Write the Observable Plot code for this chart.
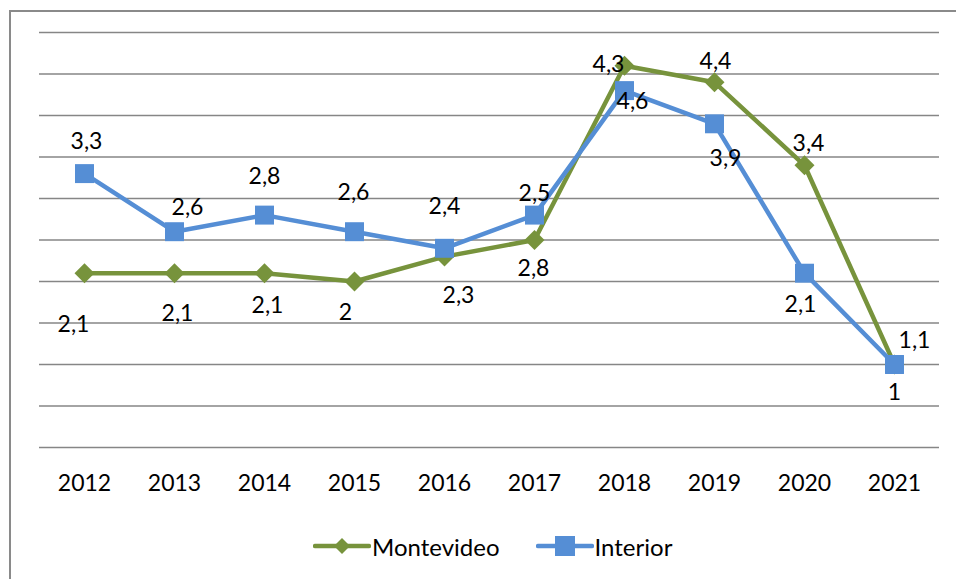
<!DOCTYPE html>
<html>
<head>
<meta charset="utf-8">
<script src="https://cdn.jsdelivr.net/npm/d3@7"></script>
<script src="https://cdn.jsdelivr.net/npm/@observablehq/plot@0.6"></script>
<style>
  html, body { margin: 0; padding: 0; background: #fff; }
  body { width: 956px; height: 579px; position: relative; overflow: hidden; font-family: Lato, "Open Sans", sans-serif; }
  #frame { position: absolute; left: 9px; top: 10px; width: 960px; height: 600px;
           border-left: 2px solid #8a8a8a; border-top: 2px solid #8a8a8a; box-sizing: border-box; }
  #chart { position: absolute; left: 0; top: 0; }
  #legend { position: absolute; left: 313px; top: 530px; height: 32px; display: flex; align-items: center;
            font-family: Lato, sans-serif; font-size: 24px; color: #000; }
  .item { display: flex; align-items: center; margin-right: 36px; }
  .item svg { display: block; margin-right: 1px; }
</style>
</head>
<body>
<div id="frame"></div>
<div id="chart"></div>
<div id="legend"></div>
<script>
const years = [2012, 2013, 2014, 2015, 2016, 2017, 2018, 2019, 2020, 2021];
const montevideo = [2.1, 2.1, 2.1, 2.0, 2.3, 2.5, 4.6, 4.4, 3.4, 1.0];
const interior = [3.3, 2.6, 2.8, 2.6, 2.4, 2.8, 4.3, 3.9, 2.1, 1.0];
const montevideoLabels = ["2,1", "2,1", "2,1", "2", "2,3", "2,8", "4,3", "4,4", "3,4", "1,1"];
const interiorLabels = ["3,3", "2,6", "2,8", "2,6", "2,4", "2,5", "4,6", "3,9", "2,1", "1"];
const gridTicks = [0, 0.5, 1, 1.5, 2, 2.5, 3, 3.5, 4, 4.5, 5];
const seriesNames = ["Montevideo", "Interior"];

// label offsets (style: placement of data labels relative to their point)
const montevideoLabelOffsets = [[-11, 51], [3, 40], [3, 32], [-9, 31], [14, 39], [-1, 29], [-16, -1], [1, -21], [4, -22], [20, -24]];
const interiorLabelOffsets = [[2, -32], [13, -24], [0, -38], [-1, -39], [0, -42], [0, -21], [8, 11], [11, 35], [-4, 31], [0, 28]];

const colors = { Montevideo: "#77933C", Interior: "#558ED5" };

const mvData = years.map((year, i) => ({ year, value: montevideo[i], label: montevideoLabels[i] }));
const inData = years.map((year, i) => ({ year, value: interior[i], label: interiorLabels[i] }));

const labelMarks = [];
mvData.forEach((d, i) => labelMarks.push(Plot.text([d], { x: "year", y: "value", text: "label", dx: montevideoLabelOffsets[i][0], dy: montevideoLabelOffsets[i][1], fill: "#000" })));
inData.forEach((d, i) => labelMarks.push(Plot.text([d], { x: "year", y: "value", text: "label", dx: interiorLabelOffsets[i][0], dy: interiorLabelOffsets[i][1], fill: "#000" })));

const chart = Plot.plot({
  width: 956,
  height: 520,
  marginLeft: 39,
  marginRight: 17,
  marginTop: 32,
  marginBottom: 73,
  x: { type: "point", domain: years, padding: 0.5, label: null },
  y: { domain: [0, 5], axis: null },
  style: { fontFamily: "Lato, sans-serif", fontSize: "23px", color: "#000", background: "transparent", overflow: "visible" },
  marks: [
    Plot.ruleY(gridTicks, { stroke: "#868686", strokeWidth: 1.5, strokeOpacity: 1 }),
    Plot.axisX({ tickSize: 0, tickPadding: 27, label: null, fontSize: 23, fill: "#000", tickFormat: d => String(d) }),
    Plot.line(mvData, { x: "year", y: "value", stroke: colors.Montevideo, strokeWidth: 4.5, strokeLinejoin: "round", strokeLinecap: "round" }),
    Plot.dot(mvData, { x: "year", y: "value", symbol: "diamond2", r: 9, fill: colors.Montevideo, stroke: "none" }),
    Plot.line(inData, { x: "year", y: "value", stroke: colors.Interior, strokeWidth: 4.5, strokeLinejoin: "round", strokeLinecap: "round" }),
    Plot.dot(inData, { x: "year", y: "value", symbol: "square", r: 10.7, fill: colors.Interior, stroke: "none" }),
    ...labelMarks
  ]
});
document.getElementById("chart").appendChild(chart);

// legend
const legend = d3.select("#legend");
seriesNames.forEach(name => {
  const item = legend.append("div").attr("class", "item");
  const svg = item.append("svg").attr("width", 58).attr("height", 24);
  svg.append("line").attr("x1", 2).attr("x2", 56).attr("y1", 12).attr("y2", 12)
    .attr("stroke", colors[name]).attr("stroke-width", 4.5).attr("stroke-linecap", "round");
  if (name === "Montevideo") {
    svg.append("path").attr("d", "M29,4 L37,12 L29,20 L21,12 Z").attr("fill", colors[name]);
  } else {
    svg.append("rect").attr("x", 19).attr("y", 2).attr("width", 20).attr("height", 20).attr("fill", colors[name]);
  }
  item.append("span").text(name);
});
</script>
</body>
</html>
